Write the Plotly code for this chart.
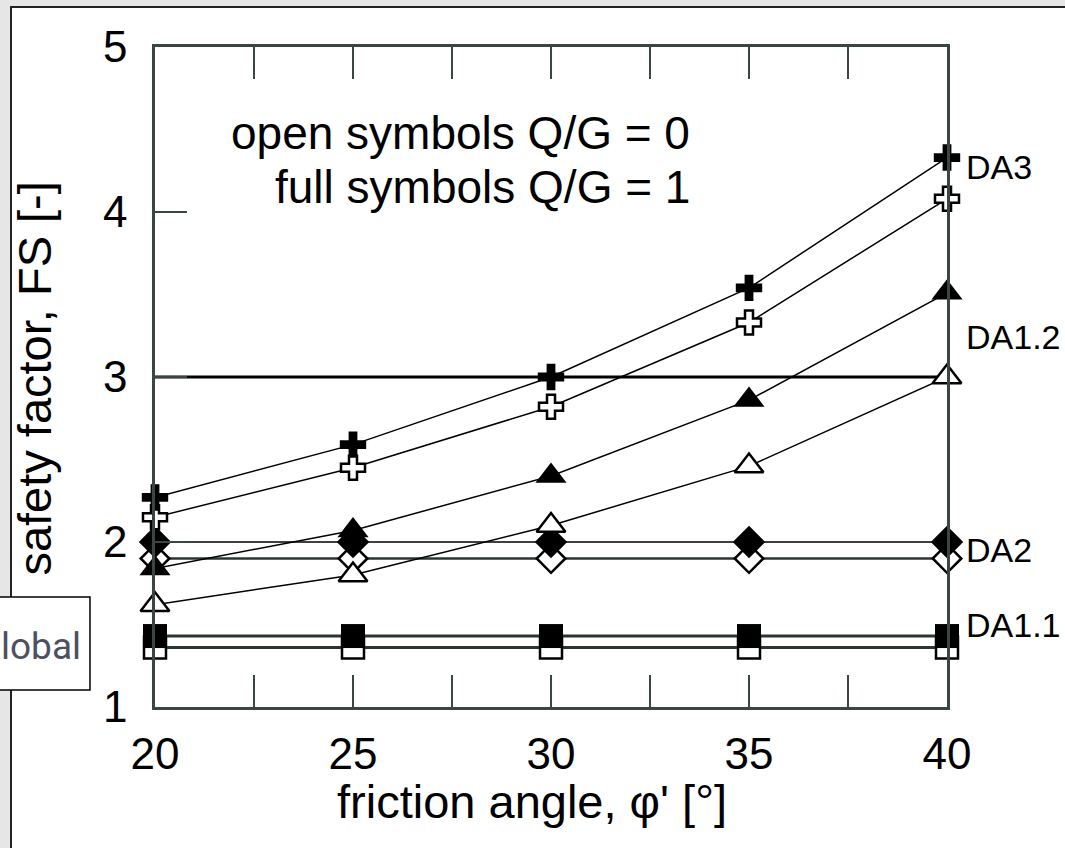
import plotly.graph_objects as go

# ---- data ----
phi = [20, 25, 30, 35, 40]
da3_full = [2.27, 2.59, 3.00, 3.54, 4.33]
da3_open = [2.15, 2.45, 2.82, 3.33, 4.08]
da12_full = [1.84, 2.07, 2.40, 2.86, 3.51]
da12_open = [1.62, 1.80, 2.10, 2.46, 3.00]
da2_full = [2.00, 2.00, 2.00, 2.00, 2.00]
da2_open = [1.90, 1.90, 1.90, 1.90, 1.90]
da11_full = [1.43, 1.43, 1.43, 1.43, 1.43]
da11_open = [1.36, 1.36, 1.36, 1.36, 1.36]
limit_x = [20, 40]
limit_y = [3.0, 3.0]

x_tickvals = [20, 22.5, 25, 27.5, 30, 32.5, 35, 37.5, 40]
x_ticktext = ["20", "", "25", "", "30", "", "35", "", "40"]
y_tickvals = [1, 2, 3, 4, 5]
y_ticktext = ["1", "2", "3", "4", "5"]

series_labels = ["DA3", "DA1.2", "DA2", "DA1.1"]
label_y = [4.27, 3.24, 1.95, 1.50]

FONT = "Arial, Liberation Sans, sans-serif"

fig = go.Figure()

def add(y, symbol, filled, size, lcolor="black", lwidth=1.5):
    fig.add_trace(go.Scatter(
        x=phi, y=y, mode="lines+markers",
        line=dict(color=lcolor, width=lwidth),
        marker=dict(symbol=symbol, size=size,
                    color="black" if filled else "white",
                    line=dict(color="black", width=2.5 if not filled else 0)),
        cliponaxis=False, showlegend=False))

# reference line at FS = 3
fig.add_trace(go.Scatter(x=limit_x, y=limit_y, mode="lines",
                         line=dict(color="black", width=3),
                         showlegend=False, cliponaxis=False))

add(da11_open, "square", False, 22, "#2a3634", 3)
add(da11_full, "square", True, 24, "#2a3634", 3)
add(da2_open, "diamond", False, 22, "#2a3634", 2.5)
add(da2_full, "diamond", True, 25, "black", 1.5)
add(da12_open, "triangle-up", False, 25)
add(da12_full, "triangle-up", True, 27)
add(da3_open, "cross", False, 20)
add(da3_full, "cross", True, 22)

axis_col = "#3a4644"

fig.update_xaxes(range=[20, 40], tickmode="array", tickvals=x_tickvals,
                 ticktext=x_ticktext, ticks="inside", ticklen=32, tickwidth=2,
                 tickcolor=axis_col, showline=True, linecolor=axis_col,
                 linewidth=2.5, mirror="ticks", showgrid=False, zeroline=False,
                 tickfont=dict(family=FONT, size=44, color="black"),
                 ticklabelstandoff=6)
fig.update_yaxes(range=[1, 5], tickmode="array", tickvals=y_tickvals,
                 ticktext=y_ticktext, ticks="inside", ticklen=32, tickwidth=2,
                 tickcolor=axis_col, showline=True, linecolor=axis_col,
                 linewidth=2.5, mirror=True, showgrid=False, zeroline=False,
                 tickfont=dict(family=FONT, size=44, color="black"),
                 ticklabelstandoff=16)

annotations = [
    dict(text="open symbols Q/G = 0", x=33.55, y=4.48, xref="x", yref="y",
         xanchor="right", yanchor="middle", showarrow=False,
         font=dict(family=FONT, size=46, color="black")),
    dict(text="full symbols Q/G = 1", x=33.55, y=4.15, xref="x", yref="y",
         xanchor="right", yanchor="middle", showarrow=False,
         font=dict(family=FONT, size=46, color="black")),
    dict(text="safety factor, FS [-]", x=-0.152, y=0.497, xref="paper", yref="paper",
         xanchor="center", yanchor="middle", textangle=-90, showarrow=False,
         font=dict(family=FONT, size=47, color="black")),
    dict(text="friction angle, φ' [°]", x=0.476, y=-0.1439, xref="paper", yref="paper",
         xanchor="center", yanchor="middle", showarrow=False,
         font=dict(family=FONT, size=47, color="black")),
    dict(text="lobal", x=-0.0915, y=0.092, xref="paper", yref="paper",
         xanchor="right", yanchor="middle", showarrow=False,
         font=dict(family="Roboto, Arial, sans-serif", size=37, color="#4d5060")),
]
for lab, ly in zip(series_labels, label_y):
    annotations.append(dict(text=lab, x=1.0215, y=ly, xref="paper", yref="y",
                            xanchor="left", yanchor="middle", showarrow=False,
                            font=dict(family=FONT, size=34, color="black")))

shapes = [
    dict(type="rect", xref="paper", yref="paper", x0=-0.1818, x1=1.3,
         y0=-0.4, y1=1.0606, fillcolor="white",
         line=dict(color="#222", width=2), layer="below"),
    dict(type="rect", xref="paper", yref="paper", x0=-0.205, x1=-0.0821,
         y0=0.0258, y1=0.1667, fillcolor="white",
         line=dict(color="black", width=1.5), layer="above"),
]

fig.update_layout(width=1065, height=848,
                  margin=dict(l=155, r=118, t=47, b=141),
                  paper_bgcolor="#e6e6e6", plot_bgcolor="white",
                  annotations=annotations, shapes=shapes, showlegend=False)

fig.write_html("out.html", config={"displayModeBar": False},
               post_script="document.body.style.margin='0';document.body.style.overflow='hidden';")
